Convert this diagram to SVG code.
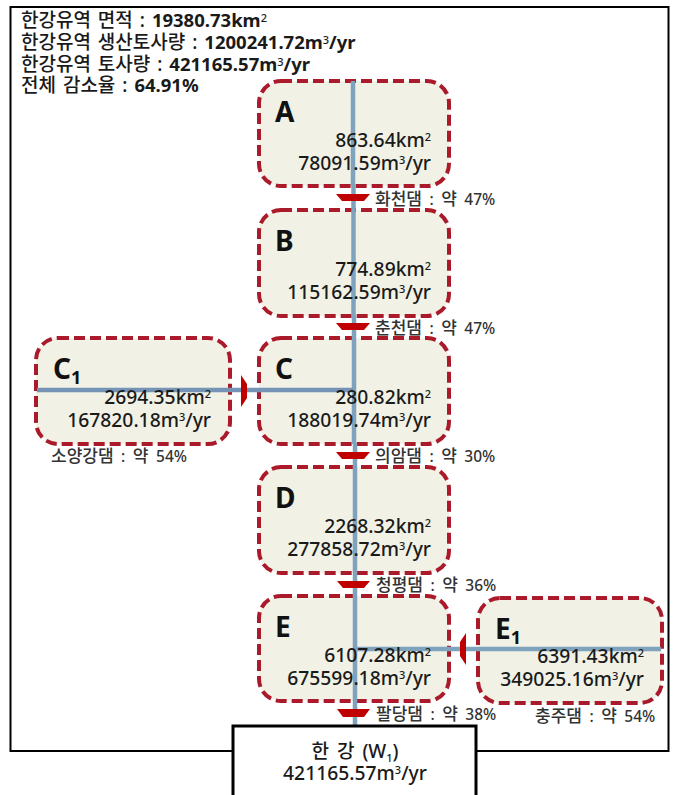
<svg xmlns="http://www.w3.org/2000/svg" width="680" height="795" viewBox="0 0 680 795">
<style>
text{font-family:"Noto Sans","Noto Sans CJK KR",sans-serif;fill:#1a1a1a}
.h{font-size:19px;font-weight:500;word-spacing:2px}
.h tspan.b{font-weight:700;font-size:18.500px}
.v{font-size:19.300px;font-weight:500;text-anchor:end}
.n{font-size:28px;font-weight:700;fill:#111}
.d{font-size:15.500px;fill:#333;font-weight:500;word-spacing:3.500px}
.d .k{font-size:17px}
.box{fill:#f1f1e6;stroke:#ab1a2a;stroke-width:4;stroke-dasharray:11 5}
.riv{fill:none;stroke-width:4.500}
.dam{fill:#c00000}
.s{font-size:11px}
</style>
<rect x="10.500" y="7" width="658" height="744" fill="#fff" stroke="#000" stroke-width="2"/>
<g id="info">
<text class="h" x="21" y="27">한강유역 면적 : <tspan class="b">19380.73km</tspan><tspan class="s" dy="-5">2</tspan></text>
<text class="h" x="21" y="49">한강유역 생산토사량 : <tspan class="b">1200241.72m</tspan><tspan class="s" dy="-5">3</tspan><tspan class="b" dy="5">/yr</tspan></text>
<text class="h" x="21" y="71">한강유역 토사량 : <tspan class="b">421165.57m</tspan><tspan class="s" dy="-5">3</tspan><tspan class="b" dy="5">/yr</tspan></text>
<text class="h" x="21" y="92">전체 감소율 : <tspan class="b">64.91%</tspan></text>
</g>
<g id="node-A"><rect class="box" x="259" y="81" width="190" height="105" rx="22"/></g>
<g id="node-B"><rect class="box" x="259" y="210" width="190" height="106" rx="22"/></g>
<g id="node-C"><rect class="box" x="259" y="338" width="190" height="106" rx="22"/></g>
<g id="node-C1"><rect class="box" x="36" y="338" width="194" height="106" rx="22"/></g>
<g id="node-D"><rect class="box" x="259" y="467" width="190" height="106" rx="22"/></g>
<g id="node-E"><rect class="box" x="259" y="596" width="190" height="105" rx="22"/></g>
<g id="node-E1"><rect class="box" x="478" y="598" width="184" height="105" rx="22"/></g>
<g id="connectors">
<path class="riv" stroke="#7fa3bd" d="M353 81V186M353.500 186V316M354 316V444M355 444V725"/>
<path class="riv" stroke="#7593b5" d="M37 390H353"/>
<path class="riv" stroke="#7fa3bd" d="M355 649H661"/>
<path class="dam" d="M336 194H370L364 201H342Z"/>
<path class="dam" d="M336 323H370L364 330H342Z"/>
<path class="dam" d="M336 452H370L364 459H342Z"/>
<path class="dam" d="M337 581H370L364 588H343Z"/>
<path class="dam" d="M337 709H370L364 717H343Z"/>
<path class="dam" d="M241 375L247 384V398L241 407Z"/>
<path class="dam" d="M466 633L460 642V656L466 665Z"/>
</g>
<g id="node-A-text"><text class="n" x="275" y="122">A</text><text class="v" x="431" y="147">863.64km<tspan class="s" dy="-6">2</tspan></text><text class="v" x="431" y="170">78091.59m<tspan class="s" dy="-6">3</tspan><tspan dy="6">/yr</tspan></text></g>
<g id="node-B-text"><text class="n" x="275" y="251">B</text><text class="v" x="431" y="276">774.89km<tspan class="s" dy="-6">2</tspan></text><text class="v" x="431" y="299">115162.59m<tspan class="s" dy="-6">3</tspan><tspan dy="6">/yr</tspan></text></g>
<g id="node-C-text"><text class="n" x="275" y="379">C</text><text class="v" x="431" y="404">280.82km<tspan class="s" dy="-6">2</tspan></text><text class="v" x="431" y="427">188019.74m<tspan class="s" dy="-6">3</tspan><tspan dy="6">/yr</tspan></text></g>
<g id="node-C1-text"><text class="n" x="53" y="379">C<tspan font-size="18" dy="5">1</tspan></text><text class="v" x="211" y="404">2694.35km<tspan class="s" dy="-6">2</tspan></text><text class="v" x="211" y="427">167820.18m<tspan class="s" dy="-6">3</tspan><tspan dy="6">/yr</tspan></text></g>
<g id="node-D-text"><text class="n" x="275" y="508">D</text><text class="v" x="431" y="533">2268.32km<tspan class="s" dy="-6">2</tspan></text><text class="v" x="431" y="556">277858.72m<tspan class="s" dy="-6">3</tspan><tspan dy="6">/yr</tspan></text></g>
<g id="node-E-text"><text class="n" x="275" y="637">E</text><text class="v" x="431" y="662">6107.28km<tspan class="s" dy="-6">2</tspan></text><text class="v" x="431" y="685">675599.18m<tspan class="s" dy="-6">3</tspan><tspan dy="6">/yr</tspan></text></g>
<g id="node-E1-text"><text class="n" x="495" y="639">E<tspan font-size="18" dy="5">1</tspan></text><text class="v" x="644" y="663">6391.43km<tspan class="s" dy="-6">2</tspan></text><text class="v" x="644" y="686">349025.16m<tspan class="s" dy="-6">3</tspan><tspan dy="6">/yr</tspan></text></g>
<g id="labels">
<text class="d" x="375" y="205"><tspan class="k">화천댐</tspan> : <tspan class="k">약</tspan> 47%</text>
<text class="d" x="375" y="334"><tspan class="k">춘천댐</tspan> : <tspan class="k">약</tspan> 47%</text>
<text class="d" x="375" y="462"><tspan class="k">의암댐</tspan> : <tspan class="k">약</tspan> 30%</text>
<text class="d" x="51" y="462"><tspan class="k">소양강댐</tspan> : <tspan class="k">약</tspan> 54%</text>
<text class="d" x="376" y="591"><tspan class="k">청평댐</tspan> : <tspan class="k">약</tspan> 36%</text>
<text class="d" x="376" y="720"><tspan class="k">팔당댐</tspan> : <tspan class="k">약</tspan> 38%</text>
<text class="d" x="535" y="722"><tspan class="k">충주댐</tspan> : <tspan class="k">약</tspan> 54%</text>
</g>
<g id="node-W1"><rect x="233" y="726" width="243" height="75" fill="#fff" stroke="#000" stroke-width="3"/>
<text x="355" y="758" font-size="19" font-weight="500" text-anchor="middle" word-spacing="3">한 강 (W<tspan class="s" dy="4">1</tspan><tspan dy="-4">)</tspan></text>
<text x="355" y="780" font-size="19.300" font-weight="500" text-anchor="middle">421165.57m<tspan class="s" dy="-6">3</tspan><tspan dy="6">/yr</tspan></text></g>
</svg>
